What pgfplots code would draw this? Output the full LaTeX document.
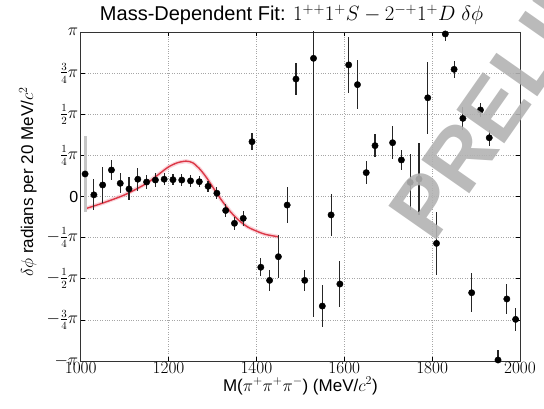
\documentclass[border=0pt]{standalone}
\usepackage{amsmath}
\usepackage{fontspec}
\setsansfont{Liberation Sans}
\usepackage{pgfplots}
\usepackage{pgfplotstable}
\pgfplotsset{compat=1.18}
\pgfplotstableread{
m v e
1030 0.010 0.095
1050 0.070 0.11
1070 0.161 0.06
1090 0.080 0.06
1110 0.046 0.07
1130 0.105 0.07
1150 0.088 0.045
1170 0.100 0.04
1190 0.105 0.035
1210 0.102 0.035
1230 0.100 0.035
1250 0.095 0.035
1270 0.090 0.035
1290 0.062 0.035
1310 0.020 0.035
1330 -0.085 0.04
1350 -0.163 0.04
1370 -0.133 0.045
1390 0.333 0.05
1410 -0.430 0.055
1430 -0.510 0.065
1450 -0.366 0.13
1470 -0.052 0.11
1490 0.714 0.10
1510 -0.510 0.065
1530 0.840 1.57
1550 -0.666 0.13
1570 -0.112 0.13
1590 -0.532 0.14
1610 0.800 0.17
1630 0.680 0.15
1650 0.145 0.07
1670 0.309 0.07
1710 0.327 0.10
1730 0.222 0.06
1750 0.086 0.17
1770 0.106 0.22
1790 0.600 0.22
1810 -0.285 0.19
1830 0.988 0.04
1850 0.773 0.05
1870 0.475 0.07
1890 -0.585 0.12
1910 0.526 0.04
1930 0.357 0.05
1950 -0.994 0.06
1970 -0.623 0.09
1990 -0.747 0.07
}\phasedata
\pgfplotstableread{
m v e
1010 0.137 0.23
}\firstpoint
\pgfplotstableread{
m v
1010 -0.075
1050 -0.040
1100 0.010
1150 0.080
1180 0.140
1200 0.180
1220 0.205
1240 0.215
1255 0.205
1270 0.170
1285 0.120
1300 0.060
1320 -0.020
1340 -0.090
1360 -0.145
1380 -0.185
1400 -0.210
1420 -0.230
1450 -0.245
}\fitdata
\definecolor{fitred}{RGB}{220,55,70}
\definecolor{fitpink}{RGB}{245,185,195}
\begin{document}
\begin{tikzpicture}
\begin{axis}[
  scale only axis,
  width=439.3pt, height=329pt,
  xmin=1000, xmax=2000, ymin=-1, ymax=1,
  xtick={1000,1200,1400,1600,1800,2000},
  ytick={-1,-0.75,-0.5,-0.25,0,0.25,0.5,0.75,1},
  yticklabels={$-\pi$,$-\tfrac{3}{4}\pi$,$-\tfrac{1}{2}\pi$,$-\tfrac{1}{4}\pi$,{\fontsize{16}{17}\selectfont\sffamily 0},$\tfrac{1}{4}\pi$,$\tfrac{1}{2}\pi$,$\tfrac{3}{4}\pi$,$\pi$},
  scaled x ticks=false,
  xticklabel style={/pgf/number format/1000 sep={}, font=\fontsize{16}{17}\selectfont, yshift=2pt},
  yticklabel style={font=\fontsize{16}{17}\selectfont, xshift=1pt},
  tick align=inside,
  major tick length=4pt,
  tick style={black, line width=0.6pt},
  grid=major,
  major grid style={gray!70, dotted, line width=0.7pt},
  axis line style={black!80, line width=0.9pt},
  clip mode=individual,
  title={\sffamily Mass-Dependent Fit: $1^{++}1^{+}S-2^{-+}1^{+}D\;\delta\phi$},
  title style={font=\fontsize{20}{21}\selectfont, anchor=base, at={(axis description cs:0.48,1)}, yshift=5pt},
  xlabel={\sffamily M($\pi^{+}\pi^{+}\pi^{-}$) (MeV/$c^{2}$)},
  xlabel style={font=\fontsize{17}{18}\selectfont, at={(axis description cs:0.5,0)}, anchor=center, yshift=-25pt},
  ylabel={\sffamily $\delta\phi$ radians per 20 MeV/$c^{2}$},
  ylabel style={font=\fontsize{17}{18}\selectfont, at={(axis description cs:-0.12,0.544)}, anchor=center},
]
\addplot[fitpink, opacity=0.6, line width=4pt] table[x=m, y=v] {\fitdata};
\addplot[fitred, line width=1.4pt, smooth] table[x=m, y=v] {\fitdata};
\addplot[black, only marks, mark=*, mark size=3.2pt,
  error bars/.cd, y dir=both, y explicit,
  error bar style={gray!45, line width=3pt}, error mark=none]
  table[x=m, y=v, y error=e] {\firstpoint};
\addplot[black, only marks, mark=*, mark size=3.2pt,
  error bars/.cd, y dir=both, y explicit,
  error bar style={black!85, line width=1.2pt}, error mark=none]
  table[x=m, y=v, y error=e] {\phasedata};
\node[overlay, rotate=55, anchor=west, text=gray!60, opacity=0.9,
  font=\fontsize{85}{85}\selectfont\sffamily\bfseries]
  at (axis cs:1745,-0.21) {PRELIMINARY};
\end{axis}
\pgfresetboundingbox
\path[use as bounding box] ([xshift=-80.7pt,yshift=-48pt]current axis.south west) rectangle ([xshift=24pt,yshift=32pt]current axis.north east);
\end{tikzpicture}
\end{document}
